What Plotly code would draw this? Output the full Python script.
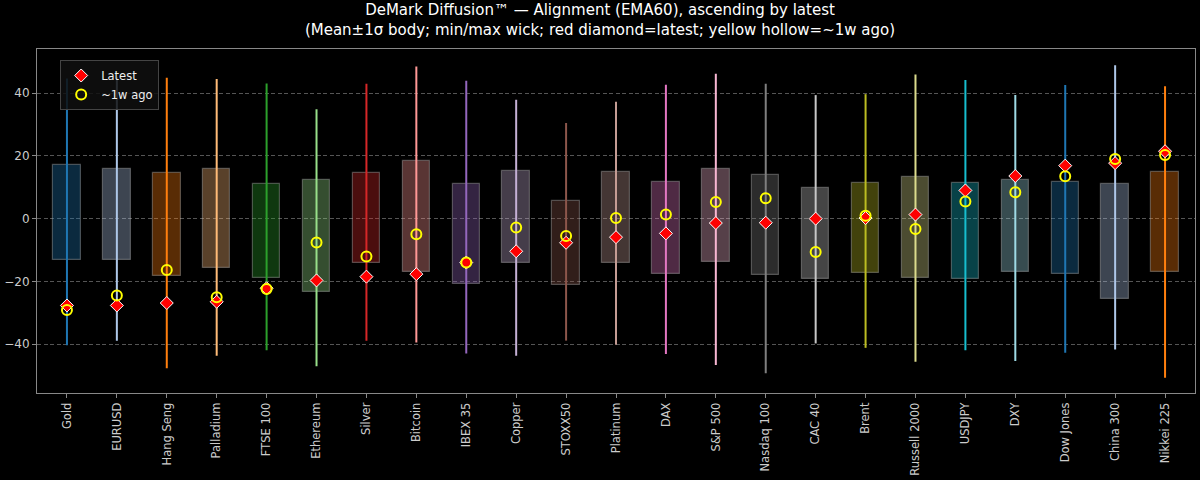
import plotly.graph_objects as go

assets = ["Gold", "EURUSD", "Hang Seng", "Palladium", "FTSE 100", "Ethereum", "Silver",
          "Bitcoin", "IBEX 35", "Copper", "STOXX50", "Platinum", "DAX", "S&P 500",
          "Nasdaq 100", "CAC 40", "Brent", "Russell 2000", "USDJPY", "DXY",
          "Dow Jones", "China 300", "Nikkei 225"]
mean = [1.95, 1.3, -2.0, 0.15, -3.9, -5.55, 0.2, 0.75, -4.85, 0.5, -7.75, 0.35, -3.05,
        1.0, -2.0, -4.7, -2.95, -2.8, -3.9, -2.35, -3.0, -7.35, -1.05]
std = [15.25, 14.6, 16.4, 15.75, 14.9, 17.95, 14.2, 17.65, 15.85, 14.7, 13.45, 14.45,
       14.65, 14.8, 15.9, 14.4, 14.25, 16.0, 15.4, 14.55, 14.7, 18.35, 15.85]
vmin = [-40.4, -38.9, -47.7, -43.7, -42.0, -47.1, -38.9, -39.5, -43.0, -43.7, -38.9,
        -40.2, -43.2, -46.7, -49.3, -39.8, -41.2, -45.6, -42.0, -45.4, -42.8, -41.7, -50.7]
vmax = [44.7, 45.2, 44.9, 44.5, 43.1, 34.9, 43.0, 48.5, 44.0, 37.9, 30.5, 37.3, 42.7,
        46.2, 43.0, 39.4, 39.7, 46.0, 44.2, 39.4, 42.6, 48.9, 42.2]
latest = [-27.7, -27.7, -26.9, -26.5, -22.2, -19.7, -18.5, -17.7, -14.0, -10.4, -7.7,
          -5.9, -4.7, -1.4, -1.3, 0.0, 0.2, 1.3, 9.0, 13.6, 16.9, 17.7, 21.5]
week_ago = [-29.1, -24.5, -16.4, -25.1, -22.4, -7.6, -12.1, -5.0, -14.0, -2.8, -5.5,
            0.2, 1.3, 5.3, 6.5, -10.6, 0.9, -3.3, 5.5, 8.4, 13.5, 19.0, 20.3]

tab20 = ["#1f77b4", "#aec7e8", "#ff7f0e", "#ffbb78", "#2ca02c", "#98df8a", "#d62728",
         "#ff9896", "#9467bd", "#c5b0d5", "#8c564b", "#c49c94", "#e377c2", "#f7b6d2",
         "#7f7f7f", "#c7c7c7", "#bcbd22", "#dbdb8d", "#17becf", "#9edae5"]
colors = [tab20[i % 20] for i in range(len(assets))]


def rgba(h, a):
    h = h.lstrip("#")
    return f"rgba({int(h[0:2],16)},{int(h[2:4],16)},{int(h[4:6],16)},{a})"


xs = list(range(len(assets)))
FONT = "DejaVu Sans"

fig = go.Figure()

fig.add_trace(go.Bar(
    x=xs, y=[2 * s for s in std], base=[m - s for m, s in zip(mean, std)],
    width=0.55,
    marker=dict(color=[rgba(c, 0.35) for c in colors],
                line=dict(color="rgba(200,200,200,0.35)", width=1.2)),
    showlegend=False, hoverinfo="skip"))

for i in xs:
    fig.add_trace(go.Scatter(
        x=[i, i], y=[vmin[i], vmax[i]], mode="lines",
        line=dict(color=colors[i], width=2), showlegend=False, hoverinfo="skip"))

fig.add_trace(go.Scatter(
    x=xs, y=latest, mode="markers", name="Latest",
    marker=dict(symbol="diamond", size=10, color="red",
                line=dict(color="white", width=1))))
fig.add_trace(go.Scatter(
    x=xs, y=week_ago, mode="markers", name="~1w ago",
    marker=dict(symbol="circle-open", size=10, color="yellow",
                line=dict(width=2))))

fig.update_layout(
    width=1200, height=480,
    paper_bgcolor="black", plot_bgcolor="black",
    margin=dict(l=33, r=4, t=49, b=85),
    font=dict(family=FONT, color="#dddddd", size=12),
    title=dict(
        text="DeMark Diffusion™ — Alignment (EMA60), ascending by latest<br>"
             "(Mean±1σ body; min/max wick; red diamond=latest; yellow hollow=~1w ago)",
        x=0.5, xanchor="center", y=0.968, yanchor="top",
        font=dict(family=FONT, size=15, color="white")),
    legend=dict(x=0.02, y=0.968, xanchor="left", yanchor="top",
                bgcolor="rgba(15,15,15,0.85)", bordercolor="#444444", borderwidth=1,
                tracegroupgap=0, itemwidth=30,
                font=dict(family=FONT, size=11.5, color="#eeeeee")),
    bargap=0,
)
fig.update_xaxes(
    range=[-0.6, len(assets) - 0.4], tickmode="array", tickvals=xs, ticktext=assets,
    tickangle=-90, showgrid=False, zeroline=False,
    showline=True, mirror=True, linecolor="#888888", linewidth=1,
    ticks="outside", ticklen=4, tickcolor="#888888",
    tickfont=dict(family=FONT, size=11.5, color="#cccccc"))
fig.update_yaxes(
    range=[-55.6, 54.1], tickvals=[-40, -20, 0, 20, 40],
    ticktext=["−40", "−20", "0", "20", "40"],
    showgrid=True, gridcolor="#555555", griddash="4px,2.5px", gridwidth=1,
    zeroline=False, showline=True, mirror=True, linecolor="#888888", linewidth=1,
    ticks="outside", ticklen=4, tickcolor="#888888",
    tickfont=dict(family=FONT, size=12, color="#cccccc"))

fig.write_html("out.html")
